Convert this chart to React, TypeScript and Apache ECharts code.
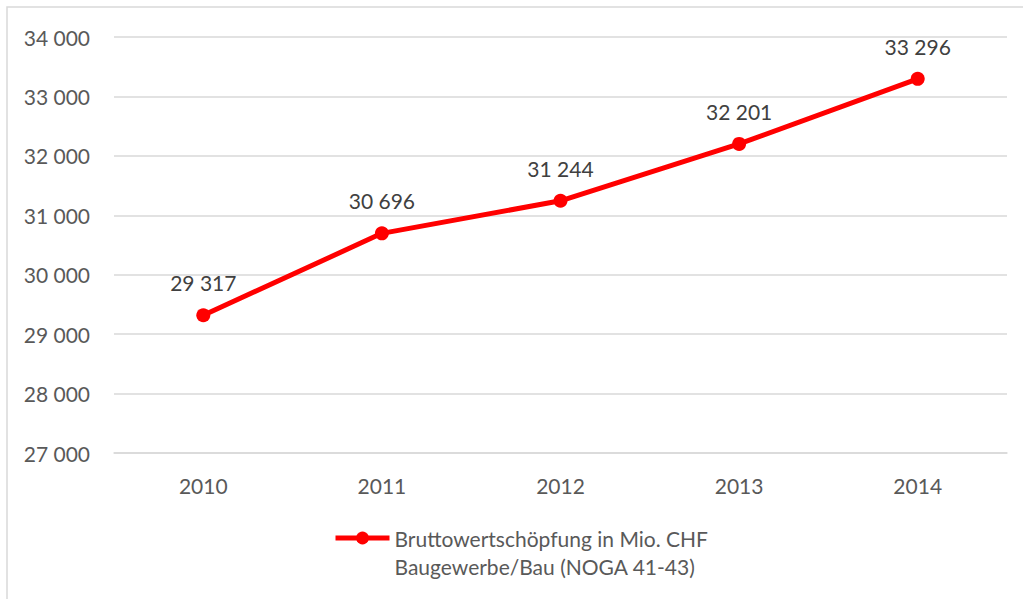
import React, { useEffect, useRef } from "react";
import * as echarts from "echarts";

const years = ["2010", "2011", "2012", "2013", "2014"];
const values = [29317, 30696, 31244, 32201, 33296];
const seriesName = "Bruttowertschöpfung in Mio. CHF\nBaugewerbe/Bau (NOGA 41-43)";
const yMin = 27000;
const yMax = 34000;
const yStep = 1000;

const fmt = (v: number) => {
  const s = String(Math.round(v));
  return s.replace(/\B(?=(\d{3})+(?!\d))/g, " ");
};

export default function App() {
  const ref = useRef<HTMLDivElement>(null);
  useEffect(() => {
    if (!ref.current) return;
    const chart = echarts.init(ref.current, null, { renderer: "svg" });
    const font = "Lato";
    chart.setOption({
      animation: false,
      backgroundColor: "#ffffff",
      textStyle: { fontFamily: font },
      graphic: [
        {
          type: "rect",
          shape: { x: 7, y: 7, width: 1040, height: 620 },
          style: { fill: "none", stroke: "#d9d9d9", lineWidth: 1.5 },
          silent: true,
        },
      ],
      grid: { left: 114, right: 16, top: 37, bottom: 146 },
      xAxis: {
        type: "category",
        data: years,
        boundaryGap: true,
        axisLine: { show: true, lineStyle: { color: "#d9d9d9", width: 1.5 } },
        axisTick: { show: false },
        axisLabel: { color: "#595959", fontSize: 21, fontFamily: font, margin: 22 },
      },
      yAxis: {
        type: "value",
        min: yMin,
        max: yMax,
        interval: yStep,
        axisLine: { show: false },
        axisTick: { show: false },
        splitLine: { lineStyle: { color: "#d9d9d9", width: 1.5 } },
        axisLabel: {
          color: "#595959",
          fontSize: 21,
          fontFamily: font,
          margin: 24,
          formatter: (v: number) => fmt(v),
        },
      },
      legend: {
        show: true,
        left: 333,
        top: 494,
        padding: 0,
        itemWidth: 54,
        itemHeight: 16,
        itemGap: 5,
        lineStyle: { width: 5, color: "#ff0000" },
        formatter: (name: string) => " \n" + name,
        textStyle: {
          color: "#595959",
          fontSize: 21,
          fontFamily: font,
          lineHeight: 28,
          padding: [0, 0, 4, 0],
        },
        data: [{ name: seriesName }],
      },
      series: [
        {
          name: seriesName,
          type: "line",
          data: values,
          symbol: "circle",
          symbolSize: 14,
          lineStyle: { color: "#ff0000", width: 5 },
          itemStyle: { color: "#ff0000" },
          label: {
            show: true,
            position: "top",
            distance: 15,
            color: "#404040",
            fontSize: 21,
            fontFamily: font,
            formatter: (p: any) => fmt(p.value),
          },
        },
      ],
    });
    return () => chart.dispose();
  }, []);
  return (
    <div
      ref={ref}
      style={{ position: "fixed", left: 0, top: 0, width: 1023, height: 599 }}
    />
  );
}
